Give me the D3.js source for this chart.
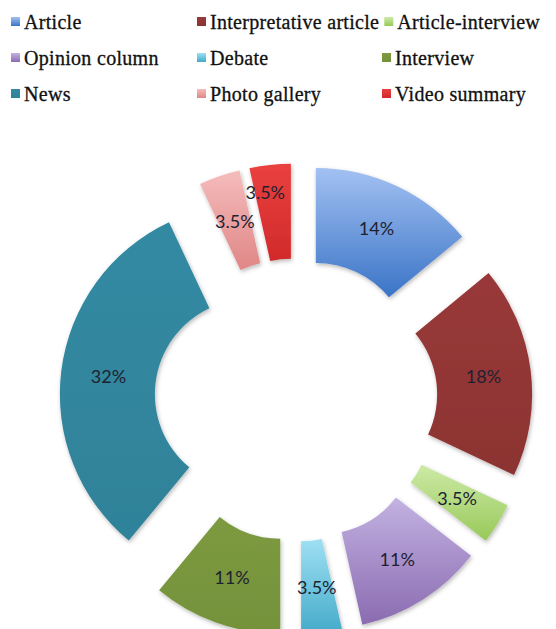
<!DOCTYPE html>
<html>
<head>
<meta charset="utf-8">
<script src="https://cdn.jsdelivr.net/npm/d3@7/dist/d3.min.js"></script>
<style>
  body { margin: 0; background: #fff; }
  svg { display: block; }
</style>
</head>
<body>
<div id="chart"></div>
<script>
const width = 556;
const height = 629;

// data
const categories = ["Article", "Interpretative article", "Article-interview",
    "Opinion column", "Debate", "Interview",
    "News", "Photo gallery", "Video summary"];
const values = [14, 18, 3.5, 11, 3.5, 11, 32, 3.5, 3.5];
const colorsTop = ["#a3c1f2", "#99393a", "#cdeaa6", "#c3b2e2", "#9fe0f3", "#7d9a40", "#338aa2", "#f5bcbc", "#ea4040"];
const colorsBottom = ["#3a74c6", "#8c3331", "#98c95a", "#8a6bb0", "#41a9c8", "#74923a", "#2f8299", "#e08686", "#d12a2a"];

const center = { x: 296, y: 400 };
const outerR = 190, innerR = 95, explode = 46.5;

const svg = d3.select("#chart").append("svg")
    .attr("width", width)
    .attr("height", height);

const defs = svg.append("defs");

// soft shadow like the office chart
const shadow = defs.append("filter")
    .attr("id", "shadow")
    .attr("x", "-20%").attr("y", "-20%")
    .attr("width", "140%").attr("height", "140%");
shadow.append("feDropShadow")
    .attr("dx", 1).attr("dy", 2)
    .attr("stdDeviation", 2)
    .attr("flood-color", "#000")
    .attr("flood-opacity", 0.28);

categories.forEach((c, i) => {
    const g = defs.append("linearGradient")
        .attr("id", "grad" + i)
        .attr("x1", 0).attr("y1", 0)
        .attr("x2", 0).attr("y2", 1);
    g.append("stop").attr("offset", "0%").attr("stop-color", colorsTop[i]);
    g.append("stop").attr("offset", "100%").attr("stop-color", colorsBottom[i]);
});

// pie
const pie = d3.pie()
    .sort(null)
    .value(d => d.value)
    .startAngle(0)
    .endAngle(2 * Math.PI);

const arc = d3.arc()
    .innerRadius(innerR)
    .outerRadius(outerR);

const data = categories.map((c, i) => ({ name: c, value: values[i], idx: i }));
const arcs = pie(data);

// small labels that excel pushed out of the way
const labelShift = { "Video summary": [-10, -19] };

function offset(d) {
    const mid = (d.startAngle + d.endAngle) / 2;
    return [Math.sin(mid) * explode, -Math.cos(mid) * explode];
}

const donut = svg.append("g")
    .attr("transform", `translate(${center.x},${center.y})`);

const slices = donut.selectAll(".slice")
    .data(arcs)
    .enter().append("g")
    .attr("class", "slice")
    .attr("transform", d => {
        const o = offset(d);
        return `translate(${o[0]},${o[1]})`;
    });

slices.append("path")
    .attr("d", arc)
    .attr("fill", d => `url(#grad${d.data.idx})`)
    .attr("filter", "url(#shadow)");

slices.append("text")
    .attr("transform", d => {
        const c = arc.centroid(d);
        const s = labelShift[d.data.name] || [0, 0];
        return `translate(${c[0] + s[0]},${c[1] + s[1]})`;
    })
    .attr("text-anchor", "middle")
    .attr("dy", "0.35em")
    .style("font-family", "Lato, 'Open Sans', sans-serif")
    .style("font-size", "18px")
    .style("fill", "#1e2230")
    .text(d => d.data.value + "%");

// legend, 3 columns, flows right when a text is long
const legend = svg.append("g").attr("class", "legend");
const colX = [11, 197, 382];
const rowY = [22, 58, 94];
let prevEnd = 0;

categories.forEach((c, i) => {
    const col = i % 3, row = Math.floor(i / 3);
    if (col === 0) prevEnd = 0;
    const x = Math.max(colX[col], prevEnd + 5);
    const item = legend.append("g")
        .attr("transform", `translate(${x},${rowY[row]})`);
    item.append("rect")
        .attr("x", 0).attr("y", -5)
        .attr("width", 9).attr("height", 9)
        .attr("fill", `url(#grad${i})`);
    const t = item.append("text")
        .attr("x", 13)
        .attr("dy", "0.35em")
        .style("font-family", "'Liberation Serif', serif")
        .style("font-size", "20px")
        .style("letter-spacing", "0.3px")
        .style("fill", "#111")
        .style("stroke", "#111")
        .style("stroke-width", "0.3px")
        .text(c);
    prevEnd = x + 13 + t.node().getComputedTextLength();
});
</script>
</body>
</html>
